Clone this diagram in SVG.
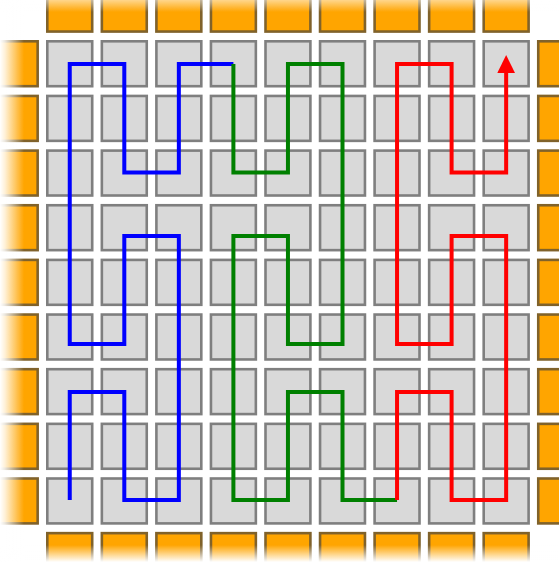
<svg xmlns="http://www.w3.org/2000/svg" xmlns:xlink="http://www.w3.org/1999/xlink" width="559" height="565" viewBox="0 0 559 565">
<style>
.g{fill:#d9d9d9;stroke:#7f7f7f;stroke-width:2.6}
.o{fill:#ffa500;stroke:#80622a;stroke-width:2.6}
.ln{fill:none;stroke-width:4;stroke-linejoin:miter;stroke-linecap:butt}
</style>
<defs>
<rect id="c" x="1.3" y="1.3" width="44.9" height="44.9"/>
<g id="row">
<use xlink:href="#c" x="46"/><use xlink:href="#c" x="100.55"/><use xlink:href="#c" x="155.1"/>
<use xlink:href="#c" x="209.65"/><use xlink:href="#c" x="264.2"/><use xlink:href="#c" x="318.75"/>
<use xlink:href="#c" x="373.3"/><use xlink:href="#c" x="427.85"/><use xlink:href="#c" x="482.4"/>
</g>
<g id="col">
<use xlink:href="#c" y="40"/><use xlink:href="#c" y="94.65"/><use xlink:href="#c" y="149.3"/>
<use xlink:href="#c" y="203.95"/><use xlink:href="#c" y="258.6"/><use xlink:href="#c" y="313.25"/>
<use xlink:href="#c" y="367.9"/><use xlink:href="#c" y="422.55"/><use xlink:href="#c" y="477.2"/>
</g>
<filter id="soft" x="-5%" y="-5%" width="110%" height="110%"><feGaussianBlur stdDeviation="0.55"/></filter>
<filter id="softl" x="-5%" y="-5%" width="110%" height="110%"><feGaussianBlur stdDeviation="0.35"/></filter>
<linearGradient id="fl" x1="0" y1="0" x2="1" y2="0">
<stop offset="0" stop-color="#fff" stop-opacity="1"/><stop offset="0.2" stop-color="#fff" stop-opacity="0.85"/><stop offset="1" stop-color="#fff" stop-opacity="0"/>
</linearGradient>
<linearGradient id="ft" x1="0" y1="0" x2="0" y2="1">
<stop offset="0" stop-color="#fff" stop-opacity="0.55"/><stop offset="1" stop-color="#fff" stop-opacity="0"/>
</linearGradient>
<linearGradient id="fb" x1="0" y1="0" x2="0" y2="1">
<stop offset="0" stop-color="#fff" stop-opacity="0"/><stop offset="0.85" stop-color="#fff" stop-opacity="1"/><stop offset="1" stop-color="#fff" stop-opacity="1"/>
</linearGradient>
</defs>
<rect width="559" height="565" fill="#fff"/>
<g id="grid" filter="url(#soft)">
<g class="g">
<use xlink:href="#row" y="40"/><use xlink:href="#row" y="94.65"/><use xlink:href="#row" y="149.3"/>
<use xlink:href="#row" y="203.95"/><use xlink:href="#row" y="258.6"/><use xlink:href="#row" y="313.25"/>
<use xlink:href="#row" y="367.9"/><use xlink:href="#row" y="422.55"/><use xlink:href="#row" y="477.2"/>
</g>
<g class="o">
<use xlink:href="#row" y="-14.65"/><use xlink:href="#row" y="531.85"/>
<use xlink:href="#col" x="-8.55"/><use xlink:href="#col" x="536.95"/>
</g>
</g>
<g id="fades">
<rect x="0" y="0" width="24" height="565" fill="url(#fl)"/>
<rect x="0" y="0" width="559" height="12" fill="url(#ft)"/>
<rect x="0" y="545" width="559" height="20" fill="url(#fb)"/>
</g>
<g id="connectors" filter="url(#softl)">
<path class="ln" stroke="#0000ff" d="M69.75,500 V392 H124.3 V500 H178.85 V236 H124.3 V344 H69.75 V64 H124.3 V172.5 H178.85 V64 H233.4"/>
<path class="ln" stroke="#008000" d="M233.4,64 V172.5 H287.95 V64 H342.5 V344 H287.95 V236 H233.4 V500 H287.95 V392 H342.5 V500 H397.05"/>
<path class="ln" stroke="#ff0000" d="M397.05,500 V392 H451.6 V500 H506.15 V236 H451.6 V344 H397.05 V64 H451.6 V172.5 H506.15 V70"/>
<polygon fill="#ff0000" points="506.15,55 515,73 497.3,73"/>
</g>
</svg>
